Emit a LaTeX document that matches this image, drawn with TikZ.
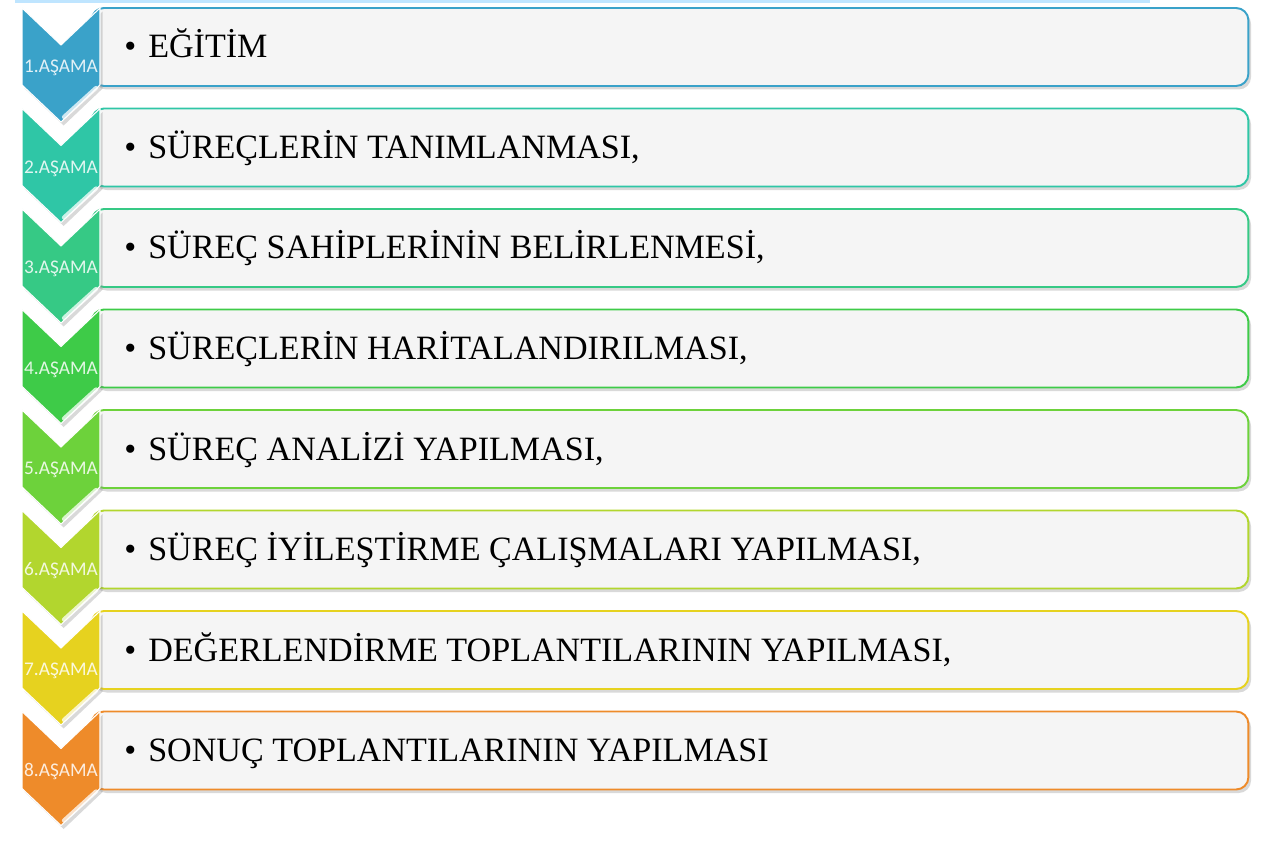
\documentclass[tikz,border=0pt]{standalone}
\usepackage{fontspec}
\setmainfont{Liberation Serif}
\newfontfamily\asamafont{Carlito}
\usetikzlibrary{shadows}
\definecolor{asamaA}{HTML}{3AA2C9}
\definecolor{asamaB}{HTML}{2FC6A6}
\definecolor{asamaC}{HTML}{36C985}
\definecolor{asamaD}{HTML}{3ECB48}
\definecolor{asamaE}{HTML}{6DD23B}
\definecolor{asamaF}{HTML}{B2D62E}
\definecolor{asamaG}{HTML}{E6D21F}
\definecolor{asamaH}{HTML}{EE8B2A}
\definecolor{boxfill}{HTML}{F5F5F5}
\begin{document}
\begin{tikzpicture}[x=0.02cm, y=-0.02cm]
        \tikzstyle{box}=[rectangle, rounded corners=7pt, fill=boxfill, line width=1.1pt, minimum width=23.14cm, minimum height=1.56cm, drop shadow={opacity=0.3, shadow xshift=1.5pt, shadow yshift=-2pt}]
        \tikzstyle{chev}=[draw=white, line width=0.6pt, drop shadow={opacity=0.3, shadow xshift=1.5pt, shadow yshift=-2pt}]
        \tikzstyle{shine}=[white, opacity=0.75, line width=2.4pt, line cap=round]
        \tikzstyle{asama}=[text=white, opacity=0.85, inner sep=0pt, font=\asamafont\fontsize{11}{12}\selectfont]
        \tikzstyle{madde}=[anchor=base west, inner sep=0pt, font=\fontsize{19.4}{22}\selectfont]
        \useasboundingbox (0,0) rectangle (1280,857);
        \fill[blue!40!cyan!25] (15,0) rectangle (1150,3);
        % kutular
        \node[box, draw=asamaA] (b1) at (670,47) {};
        \node[box, draw=asamaB] (b2) at (670,147.5) {};
        \node[box, draw=asamaC] (b3) at (670,248) {};
        \node[box, draw=asamaD] (b4) at (670,348.5) {};
        \node[box, draw=asamaE] (b5) at (670,449) {};
        \node[box, draw=asamaF] (b6) at (670,549.5) {};
        \node[box, draw=asamaG] (b7) at (670,650) {};
        \node[box, draw=asamaH] (b8) at (670,750.5) {};
        \node[madde] (t1) at (124,58) {\textbullet\hspace{0.24cm}EĞİTİM};
        \node[madde] (t2) at (124,158.5) {\textbullet\hspace{0.24cm}SÜREÇLERİN TANIMLANMASI,};
        \node[madde] (t3) at (124,259) {\textbullet\hspace{0.24cm}SÜREÇ SAHİPLERİNİN BELİRLENMESİ,};
        \node[madde] (t4) at (124,359.5) {\textbullet\hspace{0.24cm}SÜREÇLERİN HARİTALANDIRILMASI,};
        \node[madde] (t5) at (124,460) {\textbullet\hspace{0.24cm}SÜREÇ ANALİZİ YAPILMASI,};
        \node[madde] (t6) at (124,560.5) {\textbullet\hspace{0.24cm}SÜREÇ İYİLEŞTİRME ÇALIŞMALARI YAPILMASI,};
        \node[madde] (t7) at (124,661) {\textbullet\hspace{0.24cm}DEĞERLENDİRME TOPLANTILARININ YAPILMASI,};
        \node[madde] (t8) at (124,761.5) {\textbullet\hspace{0.24cm}SONUÇ TOPLANTILARININ YAPILMASI};
        % asamalar
        \draw[chev, fill=asamaA] (22,8) -- (61,45) -- (100,8) -- (100,85) -- (61,122) -- (22,85) -- cycle;
        \draw[shine] (64,117) -- (96,88);
        \draw[chev, fill=asamaB] (22,108.5) -- (61,145.5) -- (100,108.5) -- (100,185.5) -- (61,222.5) -- (22,185.5) -- cycle;
        \draw[shine] (64,217.5) -- (96,188.5);
        \draw[chev, fill=asamaC] (22,209) -- (61,246) -- (100,209) -- (100,286) -- (61,323) -- (22,286) -- cycle;
        \draw[shine] (64,318) -- (96,289);
        \draw[chev, fill=asamaD] (22,309.5) -- (61,346.5) -- (100,309.5) -- (100,386.5) -- (61,423.5) -- (22,386.5) -- cycle;
        \draw[shine] (64,418.5) -- (96,389.5);
        \draw[chev, fill=asamaE] (22,410) -- (61,447) -- (100,410) -- (100,487) -- (61,524) -- (22,487) -- cycle;
        \draw[shine] (64,519) -- (96,490);
        \draw[chev, fill=asamaF] (22,510.5) -- (61,547.5) -- (100,510.5) -- (100,587.5) -- (61,624.5) -- (22,587.5) -- cycle;
        \draw[shine] (64,619.5) -- (96,590.5);
        \draw[chev, fill=asamaG] (22,611) -- (61,648) -- (100,611) -- (100,688) -- (61,725) -- (22,688) -- cycle;
        \draw[shine] (64,720) -- (96,691);
        \draw[chev, fill=asamaH] (22,711.5) -- (61,748.5) -- (100,711.5) -- (100,788.5) -- (61,825.5) -- (22,788.5) -- cycle;
        \draw[shine] (64,820.5) -- (96,791.5);
        \node[asama] (a1) at (61,68) {1.AŞAMA};
        \node[asama] (a2) at (61,168.5) {2.AŞAMA};
        \node[asama] (a3) at (61,269) {3.AŞAMA};
        \node[asama] (a4) at (61,369.5) {4.AŞAMA};
        \node[asama] (a5) at (61,470) {5.AŞAMA};
        \node[asama] (a6) at (61,570.5) {6.AŞAMA};
        \node[asama] (a7) at (61,671) {7.AŞAMA};
        \node[asama] (a8) at (61,771.5) {8.AŞAMA};
    \end{tikzpicture}
\end{document}
